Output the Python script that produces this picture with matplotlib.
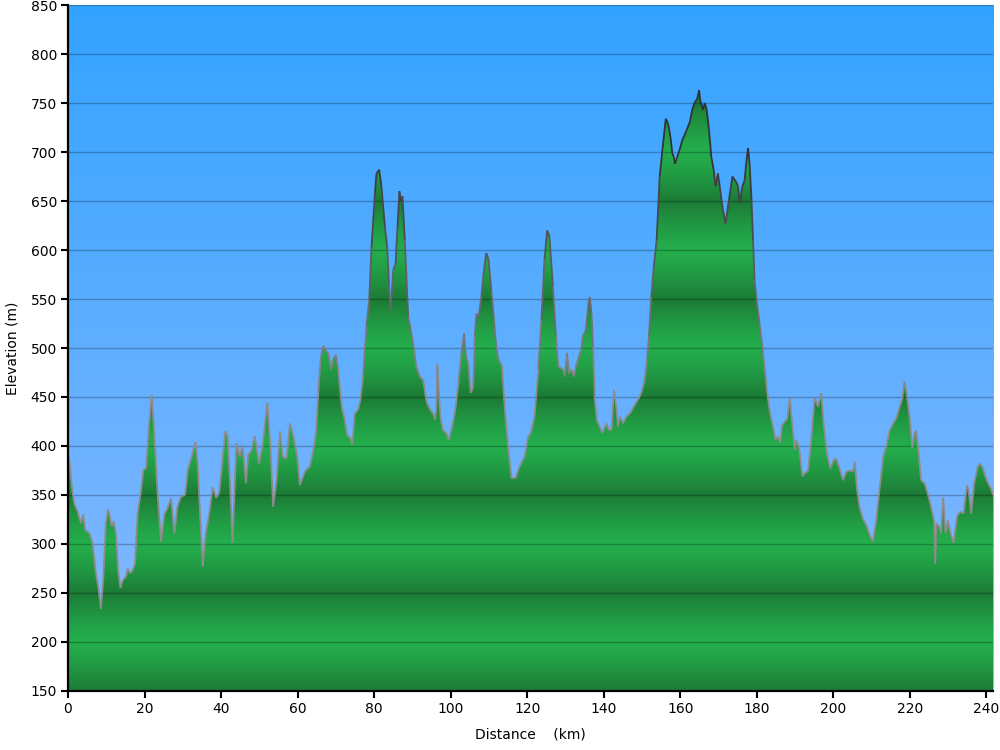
import matplotlib
matplotlib.use('Agg')
import matplotlib.pyplot as plt
import numpy as np
from matplotlib.collections import LineCollection

# elevation profile
distance_km = [
    0.0, 0.5, 1.0, 1.65, 2.5, 3.4, 4.0, 4.5, 5.6, 6.4, 7.3, 7.9, 8.6, 9.2, 9.9,
    10.4, 10.8, 11.4, 11.9, 12.5, 13.1, 13.7, 14.3, 15.2, 15.6, 16.2, 16.9, 17.5,
    18.2, 19.1, 19.7, 20.4, 21.2, 21.9, 22.5, 23.4, 24.3, 25.2, 26.0, 26.9, 27.8,
    28.6, 29.5, 30.6, 31.3, 32.1, 33.3, 33.9, 34.5, 35.2, 36.0, 36.9, 37.8, 38.7,
    39.5, 40.2, 41.1, 41.7, 42.3, 43.0, 44.0, 44.9, 45.6, 46.5, 47.1, 48.0, 48.8,
    49.9, 50.8, 52.1, 52.9, 53.6, 54.5, 55.4, 56.1, 57.1, 58.0, 58.9, 59.9, 60.6,
    61.9, 63.2, 64.1, 64.8, 65.4, 66.0, 66.7, 67.6, 68.0, 68.7, 69.3, 70.0, 70.6,
    71.5, 72.3, 72.9, 73.8, 74.3, 74.9, 75.8, 76.4, 77.1, 78.0, 78.7, 79.3, 80.2,
    80.6, 81.3, 81.9, 82.8, 83.4, 83.9, 84.3, 85.0, 85.6, 86.1, 86.6, 87.0, 87.4,
    88.0, 88.9, 89.6, 90.4, 91.0, 91.9, 92.8, 93.2, 93.7, 94.5, 95.4, 95.9, 96.3,
    96.5, 97.0, 97.4, 98.0, 98.9, 99.5, 100.4, 101.2, 102.1, 102.8, 103.5, 104.0,
    104.6, 105.2, 105.9, 106.3, 106.7, 107.3, 108.0, 108.7, 109.3, 109.9, 110.6,
    111.3, 111.9, 112.5, 113.4, 114.1, 115.0, 115.9, 116.9, 118.0, 119.3, 120.2,
    120.9, 121.9, 122.9, 123.7, 124.5, 125.2, 125.8, 126.7, 127.5, 128.1, 128.9,
    129.4, 129.8, 130.4, 130.9, 131.5, 132.2, 132.7, 133.3, 134.1, 134.6, 135.3,
    135.9, 136.3, 136.8, 137.2, 137.6, 138.2, 138.9, 139.6, 140.7, 141.4, 142.0,
    142.7, 143.3, 143.7, 144.3, 145.0, 145.9, 146.8, 147.8, 148.9, 149.8, 150.7,
    151.3, 151.8, 152.4, 153.0, 153.8, 154.6, 155.5, 156.2, 156.8, 157.4, 157.9,
    158.3, 158.6, 159.1, 159.8, 160.5, 161.6, 162.5, 163.1, 163.8, 164.4, 164.9,
    165.2, 165.9, 166.4, 166.9, 167.5, 168.1, 168.7, 169.2, 169.8, 170.3, 171.0,
    171.8, 172.7, 173.6, 174.5, 175.1, 175.5, 176.2, 176.8, 177.3, 177.7, 178.1,
    178.6, 179.0, 179.4, 179.9, 180.7, 181.6, 182.5, 183.3, 184.2, 184.9, 185.5,
    186.1, 186.6, 187.3, 187.9, 188.6, 189.3, 189.9, 190.3, 191.0, 191.9, 192.5,
    193.4, 194.2, 195.1, 196.0, 196.8, 197.5, 198.3, 199.2, 200.1, 200.7, 201.6,
    202.5, 203.4, 204.4, 205.1, 205.6, 206.1, 206.8, 207.7, 208.6, 209.5, 210.3,
    211.2, 212.1, 213.0, 213.8, 214.7, 215.6, 216.4, 217.3, 218.0, 218.6, 219.2,
    219.9, 220.6, 221.2, 221.6, 222.3, 222.9, 223.8, 224.6, 225.5, 226.3, 226.6,
    226.9, 227.6, 228.1, 228.7, 229.3, 229.9, 230.6, 231.4, 232.3, 233.1, 234.0,
    234.9, 235.3, 236.0, 236.8, 237.7, 238.3, 238.9, 239.6, 240.4, 241.1, 241.7,
]
elevation_m = [
    395, 380, 358, 341, 333, 321, 330, 314, 311, 301, 270, 256, 234, 263, 321,
    335, 331, 318, 323, 311, 273, 255, 263, 267, 275, 270, 273, 280,
    331, 355, 376, 377, 423, 452, 416, 352, 302, 331, 336, 347, 311,
    338, 348, 350, 376, 386, 404, 382, 331, 277, 311, 331, 358, 347,
    352, 379, 415, 410, 365, 301, 403, 389, 401, 362, 391, 396, 410,
    382, 399, 444, 399, 338, 365, 415, 389, 387, 423, 410, 389, 360,
    374, 379, 396, 413, 454, 488, 502, 496, 495, 478, 489, 493, 478,
    440, 427, 411, 408, 401, 433, 437, 447, 471, 522, 549, 603, 658,
    678, 682, 665, 624, 603, 563, 539, 580, 586, 624, 660, 650, 655,
    610, 532, 518, 498, 481, 471, 467, 457, 445, 438, 433, 427, 440,
    483, 447, 427, 416, 413, 406, 420, 437, 467, 494, 515, 491,
    484, 454, 460, 512, 535, 532, 552, 580, 597, 590, 559,
    529, 501, 488, 481, 440, 399, 367, 367, 379, 389, 409,
    413, 430, 478, 529, 590, 620, 614, 563, 512, 481, 479,
    478, 471, 495, 474, 478, 471, 481, 489, 498, 513, 518,
    542, 552, 535, 501, 450, 426, 420, 413, 423, 416, 416,
    457, 437, 420, 430, 423, 430, 433, 440, 447, 454, 467,
    488, 512, 552, 580, 610, 675, 709, 734, 729, 716, 699,
    695, 688, 694, 702, 712, 722, 731, 743, 751, 754, 763,
    753, 743, 750, 743, 722, 695, 682, 665, 678, 665, 644,
    627, 651, 675, 670, 665, 648, 665, 671, 692, 704, 688,
    651, 610, 569, 549, 525, 495, 461, 437, 420, 406, 410,
    403, 421, 425, 427, 449, 420, 396, 406, 399, 369, 372,
    375, 406, 449, 440, 454, 420, 392, 377, 386, 387, 377,
    365, 374, 375, 374, 384, 358, 338, 326, 319, 309, 302,
    324, 358, 389, 399, 416, 423, 428, 440, 448, 466, 452,
    430, 398, 413, 416, 392, 365, 362, 352, 338, 324, 280,
    321, 318, 311, 347, 311, 324, 311, 301, 328, 333, 331,
    360, 355, 331, 362, 379, 382, 379, 370, 362, 357, 350,
]

y_ticks = list(range(150, 851, 50))
x_ticks = list(range(0, 241, 20))

x = np.array(distance_km)
y = np.array(elevation_m, dtype=float)
x_max = x[-1]
y_min, y_max = 150, 850

fig = plt.figure(figsize=(10, 7.5), dpi=100)
ax = fig.add_axes([0.068, 0.0787, 0.925, 0.9146])

# sky: blue vertical gradient
sky_top = np.array([0.20, 0.64, 1.0])
sky_bot = np.array([0.55, 0.73, 1.0])
t = np.linspace(0, 1, 256)[:, None]
sky = sky_bot + (sky_top - sky_bot) * t
ax.imshow(sky[:, None, :], extent=[0, x_max, y_min, y_max], origin='lower',
          aspect='auto', zorder=0, interpolation='bilinear')

# ground: soft green bands, dark at 150/250/350..., bright at 200/300/400...
elev = np.linspace(y_min, y_max, 1400)
phase = ((elev - 150) / 100.0) % 1.0
k = np.abs(phase - 0.5) * 2  # 1 at dark lines, 0 at bright
k = k ** 1.3
bright = np.array([0.14, 0.68, 0.30])
dark = np.array([0.11, 0.48, 0.21])
green = bright + (dark - bright) * k[:, None]
poly = ax.fill_between(x, y, y_min, color='none', linewidth=0, zorder=1)
img = ax.imshow(green[:, None, :], extent=[0, x_max, y_min, y_max], origin='lower',
                aspect='auto', zorder=1, interpolation='bilinear')
img.set_clip_path(poly.get_paths()[0], transform=ax.transData)

# outline, darker at high elevation
pts = np.column_stack([x, y])
segs = np.stack([pts[:-1], pts[1:]], axis=1)
mid = (y[:-1] + y[1:]) / 2
w = np.clip((mid - 450) / 250.0, 0, 1)[:, None]
line_cols = np.array([0.55, 0.55, 0.55]) * (1 - w) + np.array([0.18, 0.2, 0.22]) * w
ax.add_collection(LineCollection(segs, colors=line_cols, linewidths=1.3, zorder=3))

ax.set_xlim(0, x_max)
ax.set_ylim(y_min, y_max)
ax.set_xticks(x_ticks)
ax.set_yticks(y_ticks)
ax.set_axisbelow(False)
ax.yaxis.grid(True, color='black', alpha=0.25, linewidth=1)
ax.xaxis.grid(False)

for s in ['top', 'right']:
    ax.spines[s].set_visible(False)
for s in ['left', 'bottom']:
    ax.spines[s].set_linewidth(1.6)
    ax.spines[s].set_zorder(5)
ax.tick_params(direction='out', length=5, width=1.5, labelsize=10, colors='black', pad=3)

ax.set_xlabel('Distance    (km)', fontsize=10, labelpad=8)
ax.set_ylabel('Elevation (m)', fontsize=10, labelpad=8)

fig.savefig('out.png', dpi=100)
